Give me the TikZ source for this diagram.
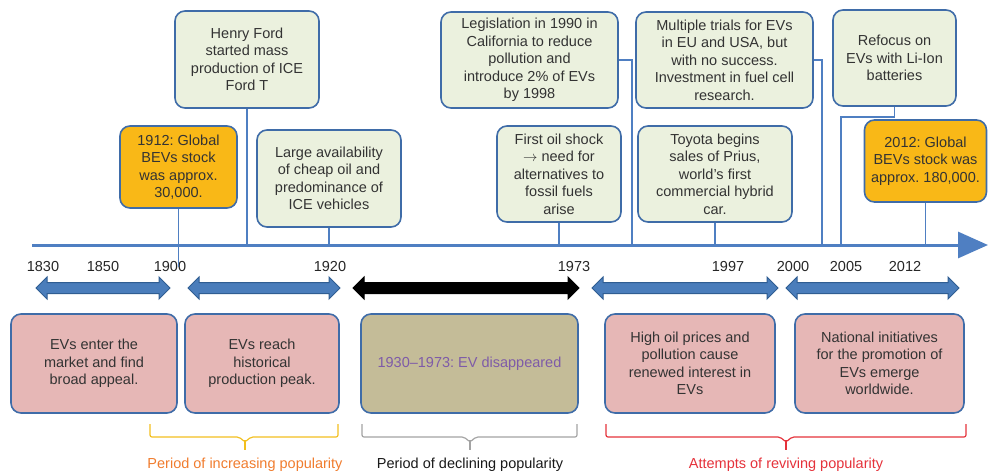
\documentclass[tikz,border=0pt]{standalone}
\usepackage{fontspec}
\setmainfont{Liberation Sans}
\usetikzlibrary{arrows.meta,shapes.arrows}
\definecolor{boxline}{HTML}{3F6CA8}
\definecolor{axisblue}{HTML}{4F7FC2}
\definecolor{notegreen}{HTML}{EBF1DE}
\definecolor{stockorange}{HTML}{F9B817}
\definecolor{eventpink}{HTML}{E6B7B6}
\definecolor{goneolive}{HTML}{C4BC98}
\definecolor{arrfill}{HTML}{4A7DBB}
\definecolor{arrline}{HTML}{2F5D92}
\definecolor{txt}{HTML}{333333}
\definecolor{gonetxt}{HTML}{7E5BA8}
\definecolor{risecol}{HTML}{F2BF1E}
\definecolor{risetxt}{HTML}{F07C2E}
\definecolor{fallcol}{HTML}{A3A3A3}
\definecolor{revcol}{HTML}{E5323B}
\frenchspacing

\begin{document}
\begin{tikzpicture}[x=1pt, y=-1pt, font=\fontsize{14.5}{17.5}\selectfont,
    note/.style={draw=boxline, line width=1.6pt, rounded corners=10pt, fill=notegreen,
        align=center, text=txt, inner sep=2pt},
    stock/.style={note, fill=stockorange},
    event/.style={note, fill=eventpink},
    link/.style={draw=axisblue, line width=1.5pt},
    dbl/.style={double arrow, draw=arrline, fill=arrfill, line width=1pt,
        minimum width=21pt, double arrow head extend=5.5pt, inner xsep=0pt, inner ysep=5pt}]
    \useasboundingbox (0,0) rectangle (988,474);

    % time axis
    \coordinate (tl) at (32,245);
    \coordinate (tr) at (988,245);
    \draw[axisblue, line width=3pt, -{Triangle[length=30pt,width=26pt]}] (tl) -- (tr);
    \foreach \yr/\xp in {1830/43,1850/103,1900/170,1920/330,1973/574,1997/728,2000/793,2005/846,2012/905}
        \node[text=black!85] (y\yr) at (\xp,267) {\yr};

    % events above the axis
    \node[note, minimum width=144pt, minimum height=97pt] (ford) at (247,59.5)
        {Henry Ford\\started mass\\production of ICE\\Ford T};
    \node[stock, minimum width=117pt, minimum height=82pt] (bev1912) at (178.5,167)
        {1912: Global\\BEVs stock\\was approx.\\30,000.};
    \node[note, minimum width=144pt, minimum height=97pt] (cheap) at (329,178.5)
        {Large availability\\of cheap oil and\\predominance of\\ICE vehicles};
    \node[note, minimum width=177pt, minimum height=96pt] (legis) at (529.5,60)
        {Legislation in 1990 in\\California to reduce\\pollution and\\introduce 2\% of EVs\\by 1998};
    \node[note, minimum width=124pt, minimum height=96pt] (shock) at (559,174)
        {First oil shock\\$\rightarrow$ need for\\alternatives to\\fossil fuels\\arise};
    \node[note, minimum width=177pt, minimum height=96pt] (trials) at (724.5,60)
        {Multiple trials for EVs\\in EU and USA, but\\with no success.\\Investment in fuel cell\\research.};
    \node[note, minimum width=154pt, minimum height=96pt] (toyota) at (715,174)
        {Toyota begins\\sales of Prius,\\world's first\\commercial hybrid\\car.};
    \node[note, minimum width=123pt, minimum height=96pt] (refocus) at (894.5,58)
        {Refocus on\\EVs with Li-Ion\\batteries};
    \node[stock, minimum width=122pt, minimum height=82pt] (bev2012) at (925.5,161)
        {2012: Global\\BEVs stock was\\approx. 180,000.};

    % links to the axis
    \draw[link] (bev1912.south) -- (bev1912.south |- y1900.center);
    \foreach \n in {ford,cheap,shock,toyota,bev2012}
        \draw[link] (\n.south) -- (\n.south |- tl);
    \draw[link] (legis.east) -- ++(13,0) coordinate (lk) -- (lk |- tl);
    \draw[link] (trials.east) -- ++(8,0) coordinate (tk) -- (tk |- tl);
    \draw[link] (refocus.south) -- ++(0,10) -| (841,0 |- tl);

    % periods
    \node[dbl, minimum height=134pt] (p1) at (103,288) {};
    \node[dbl, minimum height=152pt] (p2) at (264,288) {};
    \node[dbl, minimum height=226pt, fill=black, draw=black] (p3) at (466,288) {};
    \node[dbl, minimum height=186pt] (p4) at (685,288) {};
    \node[dbl, minimum height=173pt] (p5) at (872.5,288) {};

    \node[event, minimum width=166pt, minimum height=99pt] (enter) at (94,363.5)
        {EVs enter the\\market and find\\broad appeal.};
    \node[event, minimum width=154pt, minimum height=99pt] (peak) at (262,363.5)
        {EVs reach\\historical\\production peak.};
    \node[note, fill=goneolive, text=gonetxt, minimum width=217pt, minimum height=99pt] (gone) at (469.5,363.5)
        {1930–1973: EV disappeared};
    \node[event, minimum width=170pt, minimum height=99pt] (renew) at (690,363.5)
        {High oil prices and\\pollution cause\\renewed interest in\\EVs};
    \node[event, minimum width=169pt, minimum height=99pt] (nat) at (879.5,363.5)
        {National initiatives\\for the promotion of\\EVs emerge\\worldwide.};

    % braces
    \foreach \xa/\xm/\xb/\col in {150/245/338/risecol,362/470/577/fallcol,606/786/966/revcol} {
        \draw[\col, line width=1.2pt, rounded corners=2pt]
            (\xa,424) |- (\xm-6,437) -- (\xm,442) -- (\xm+6,437) -| (\xb,424);
        \draw[\col, line width=1.2pt] (\xm,441) -- (\xm,450);
    }
    \node[text=risetxt] (rise) at (245,465) {Period of increasing popularity};
    \node[text=black!90] (fall) at (470,465) {Period of declining popularity};
    \node[text=revcol] (revive) at (786,465) {Attempts of reviving popularity};
\end{tikzpicture}
\end{document}
